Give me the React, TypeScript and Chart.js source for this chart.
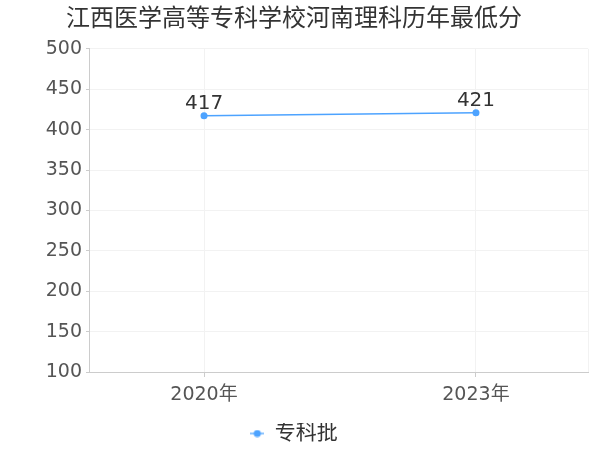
import React, { useEffect, useRef } from "react";
import { Chart, registerables } from "chart.js";

Chart.register(...registerables);

const titleText = "江西医学高等专科学校河南理科历年最低分";
const categories = ["2020年", "2023年"];
const seriesName = "专科批";
const values = [417, 421];
const yMin = 100;
const yMax = 500;
const yStep = 50;

const FONT = "'DejaVu Sans', 'Noto Sans CJK SC', sans-serif";
const BLUE = "#4da3ff";
const X_MIN = -0.423;
const X_MAX = 1.412;

function makeLegendIcon(): HTMLCanvasElement {
  const c = document.createElement("canvas");
  c.width = 14;
  c.height = 8;
  const g = c.getContext("2d")!;
  g.strokeStyle = "#8cc4ff";
  g.lineWidth = 2;
  g.beginPath();
  g.moveTo(0, 4);
  g.lineTo(14, 4);
  g.stroke();
  g.fillStyle = BLUE;
  g.beginPath();
  g.arc(7, 4, 3.6, 0, Math.PI * 2);
  g.fill();
  return c;
}

const valueLabels = {
  id: "valueLabels",
  afterDatasetsDraw(chart: any) {
    const meta = chart.getDatasetMeta(0);
    const ctx = chart.ctx;
    ctx.save();
    ctx.font = `20px ${FONT}`;
    ctx.fillStyle = "#333";
    ctx.textAlign = "center";
    ctx.textBaseline = "bottom";
    meta.data.forEach((p: any, i: number) => {
      ctx.fillText(String(values[i]), p.x, p.y - 2);
    });
    ctx.restore();
  },
};

export default function App() {
  const ref = useRef<HTMLCanvasElement>(null);
  useEffect(() => {
    document.body.style.margin = "0";
    const chart = new Chart(ref.current!, {
      type: "line",
      data: {
        datasets: [
          {
            label: seriesName,
            data: values.map((v, i) => ({ x: i, y: v })),
            borderColor: BLUE,
            backgroundColor: BLUE,
            borderWidth: 1.5,
            pointRadius: 3.5,
            pointHoverRadius: 3.5,
            pointBorderWidth: 0,
            pointBackgroundColor: BLUE,
            tension: 0,
          },
        ],
      },
      options: {
        responsive: false,
        animation: false,
        layout: { padding: { left: 0, right: 12, bottom: -4 } },
        plugins: {
          title: {
            display: true,
            text: titleText,
            color: "#333",
            font: { family: FONT, size: 24, weight: "normal" },
            padding: { top: 5, bottom: 15 },
          },
          legend: {
            position: "bottom",
            labels: {
              usePointStyle: true,
              pointStyle: makeLegendIcon() as any,
              pointStyleWidth: 14,
              boxHeight: 10,
              color: "#333",
              font: { family: FONT, size: 21 },
              padding: 0,
            },
          },
          tooltip: { enabled: false },
        },
        scales: {
          x: {
            type: "linear",
            min: X_MIN,
            max: X_MAX,
            afterBuildTicks: (scale: any) => {
              scale.ticks = [
                ...categories.map((_, i) => ({ value: i })),
                { value: X_MAX },
              ];
            },
            afterFit: (scale: any) => {
              scale.height = 51;
            },
            ticks: {
              autoSkip: false,
              maxRotation: 0,
              color: "#555",
              font: { family: FONT, size: 19 },
              padding: 7,
              callback: (v: any) => {
                const i = Math.round(Number(v));
                return Math.abs(Number(v) - i) < 1e-6 ? categories[i] ?? "" : "";
              },
            },
            grid: {
              color: "#f2f2f2",
              tickColor: (c: any) => (c.tick && c.tick.value > 1.1 ? "rgba(0,0,0,0)" : "#ccc"),
              tickLength: 5,
            },
            border: { color: "#ccc" },
          },
          y: {
            min: yMin,
            max: yMax,
            afterFit: (scale: any) => {
              scale.width = 89;
            },
            ticks: {
              stepSize: yStep,
              color: "#555",
              font: { family: FONT, size: 19 },
              padding: 4,
            },
            grid: {
              color: "#f2f2f2",
              tickColor: "#ccc",
              tickLength: 3,
            },
            border: { color: "#ccc" },
          },
        },
      },
      plugins: [valueLabels],
    });
    return () => chart.destroy();
  }, []);
  return (
    <div style={{ position: "absolute", left: 0, top: 0, width: 600, height: 450 }}>
      <canvas ref={ref} width={600} height={450} />
    </div>
  );
}
